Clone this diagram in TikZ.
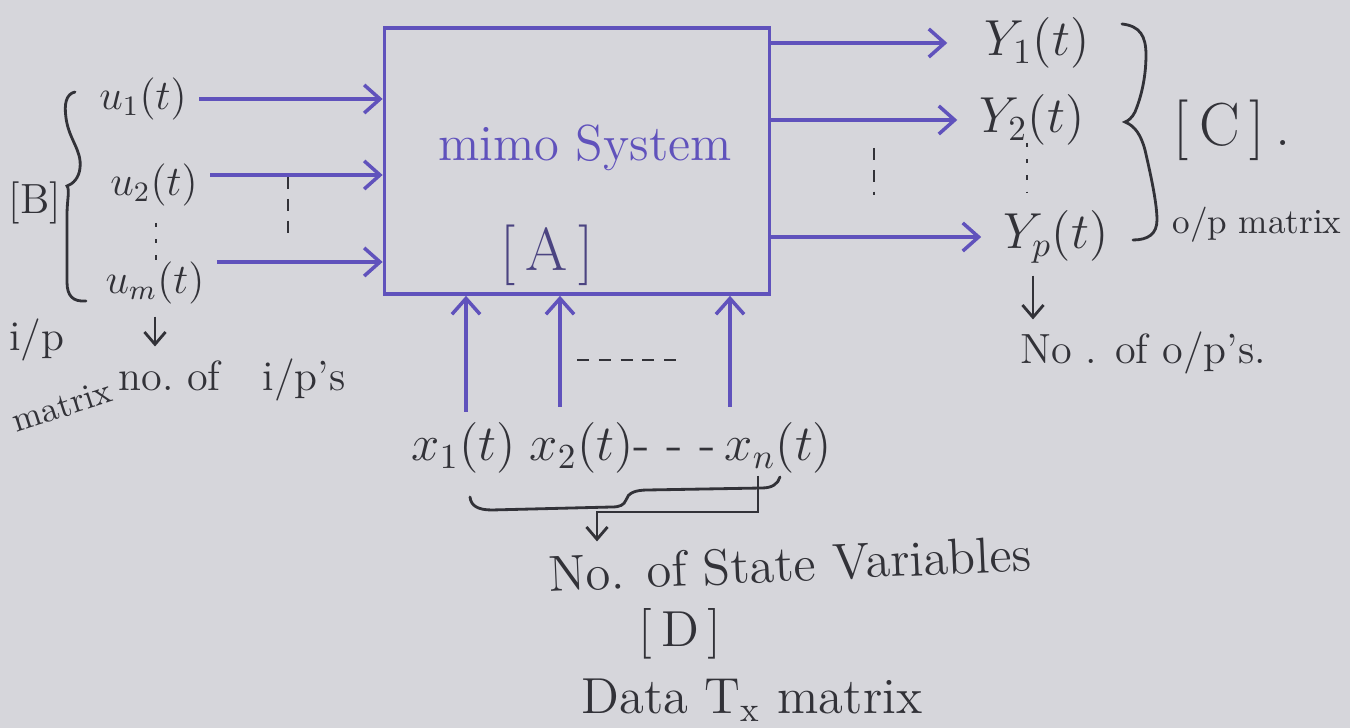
\documentclass[tikz,border=0pt]{standalone}
\usepackage{amsmath}
\usepackage{amssymb}
\usepackage{tikz}
\usetikzlibrary{arrows.meta}
\definecolor{ink}{RGB}{96,82,188}
\definecolor{pencil}{RGB}{50,50,56}
\definecolor{paper}{RGB}{214,214,219}
\newcommand{\inkwidth}{1pt}
\newcommand{\pencilwidth}{0.8pt}
\tikzset{sig/.style={draw=ink, line width=\inkwidth, -{Straight Barb[length=4.5pt, width=8pt]}}}
\tikzset{pointer/.style={draw=pencil, line width=\pencilwidth, -{Straight Barb[length=3.5pt, width=6pt]}}}
\tikzset{lbl/.style={text=pencil}}
\tikzset{gap/.style={draw=pencil, line width=0.6pt, dash pattern=on 3.4pt off 2.8pt}}
\tikzset{dotgap/.style={draw=pencil, line width=0.7pt, dash pattern=on 1.2pt off 3.4pt}}
\tikzset{curly/.style={draw=pencil, line width=\pencilwidth, line cap=round}}

\begin{document}
\begin{tikzpicture}[x=0.01cm, y=-0.01cm]

\fill[paper] (0,0) rectangle (1350,728);
\useasboundingbox (0,0) rectangle (1350,728);

\node[draw=ink, line width=\inkwidth, minimum width=3.85cm, minimum height=2.66cm] (sys) at (577,161) {};
\node[text=ink, font=\Large] (mimo) at (585,148) {mimo System};
\node[text=ink!55!pencil, font=\LARGE] (A) at (547,255) {[\,A\,]};

% inputs
\node[lbl, font=\large] (u1) at (143,99) {$u_1(t)$}; \draw[sig] (u1.east) -- (u1.east -| sys.west);
\node[lbl, font=\large] (u2) at (154,185) {$u_2(t)$}; \coordinate (u2out) at ([yshift=0.1cm]u2.east);
\draw[sig] (u2out) -- (u2out -| sys.west);
\node[lbl, font=\large] (um) at (155,283) {$u_m(t)$}; \coordinate (umout) at ([yshift=0.21cm]um.east);
\draw[sig] (umout) -- (umout -| sys.west);
\draw[dotgap] (156,223) -- (156,260);
\draw[gap] (288,177) -- (288,242);

\node[lbl, font=\large] (B) at (35,203) {[B]};
\draw[curly] (75,92) .. controls (66,94) and (64,104) .. (66,118) .. controls (69,140) and (82,150) .. (80,168)
  .. controls (79,178) and (73,184) .. (67,186) .. controls (70,190) and (67,200) .. (67,215) -- (67,282)
  .. controls (67,296) and (73,302) .. (86,301);
\node[lbl, font=\large] (ip) at (37,340) {i/p};
\node[lbl, rotate=18] (mat) at (62,406) {matrix};
\node[lbl, font=\large] (nip) at (232,380) {no.\ of\quad i/p's};
\draw[pointer] (um.south) -- (um.south |- nip.north);

% outputs
\node[lbl, font=\Large] (y1) at (1037,43) {$Y_1(t)$}; \draw[sig, shorten >=0.25cm] (sys.east |- y1) -- (y1);
\node[lbl, font=\Large] (y2) at (1032,120) {$Y_2(t)$}; \draw[sig, shorten >=0.1cm] (sys.east |- y2) -- (y2);
\node[lbl, font=\Large] (yp) at (1056,237) {$Y_p(t)$}; \draw[sig, shorten >=0.1cm] (sys.east |- yp) -- (yp);
\draw[dotgap] (1027,143) -- (1027,192);
\draw[gap] (874,148) -- (874,195);

\draw[curly] (1122,24) .. controls (1140,26) and (1146,36) .. (1146,55) .. controls (1146,80) and (1140,100) .. (1135,112)
  .. controls (1132,118) and (1128,121) .. (1125,122) .. controls (1135,126) and (1141,135) .. (1145,150)
  .. controls (1152,180) and (1157,205) .. (1157,220) .. controls (1157,234) and (1148,240) .. (1133,240);
\node[lbl, font=\LARGE] (C) at (1232,130) {[\,C\,]\,.};
\node[lbl] (opm) at (1257,225) {o/p matrix};
\node[lbl, font=\large] (nop) at (1143,353) {No . of o/p's.};
\coordinate (ypfoot) at ([xshift=-0.23cm]yp.south); \draw[pointer] (ypfoot) -- (ypfoot |- nop.north);

% states
\coordinate (x1in) at (466,412); \draw[sig] (x1in) -- (x1in |- sys.south);
\coordinate (x2in) at (560,407); \draw[sig] (x2in) -- (x2in |- sys.south);
\coordinate (xnin) at (730,407); \draw[sig] (xnin) -- (xnin |- sys.south);
\draw[gap] (577,360) -- (677,360);
\node[lbl, font=\Large] (xs) at (622,448) {$x_1(t)\; x_2(t)$- - -\,$x_n(t)$};

\draw[curly] (470,497) .. controls (471,506) and (478,510) .. (492,510) -- (612,507) .. controls (620,507) and (624,505) .. (626,500)
  .. controls (628,493) and (635,490) .. (648,490) -- (762,488) .. controls (772,488) and (778,484) .. (780,477);
\node[lbl, font=\Large, rotate=2.5, inner sep=1pt] (nsv) at (790,564) {No. of State Variables};
\coordinate (tick) at (758,476); \coordinate (turn) at (597,512);
\draw[pointer] (tick) |- (turn) -- (turn |- nsv.north);
\node[lbl, font=\Large, inner sep=1pt] (D) at (680,634) {[\,D\,]};
\node[lbl, font=\Large] (tx) at (752,700) {Data T$_\text{x}$ matrix};

\end{tikzpicture}
\end{document}
